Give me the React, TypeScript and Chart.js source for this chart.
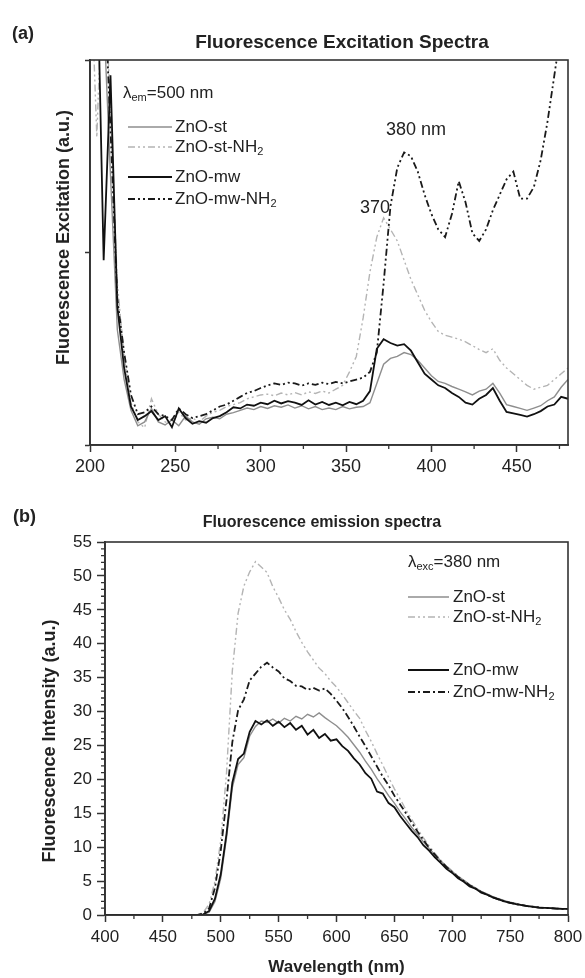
import React, { useEffect, useRef } from 'react';
import { Chart, registerables } from 'chart.js';

Chart.register(...registerables);

const FONT = '"Liberation Sans", Arial, Helvetica, sans-serif';
const TXT = '#222222';
const AXIS = '#333333';

// ---------- (a) Fluorescence excitation spectra (lambda_em = 500 nm) ----------
const excWavelength = [
  200, 204, 208, 212, 216, 220, 224, 228, 232, 236,
  240, 244, 248, 252, 256, 260, 264, 268, 272, 276,
  280, 284, 288, 292, 296, 300, 304, 308, 312, 316,
  320, 324, 328, 332, 336, 340, 344, 348, 352, 356,
  360, 364, 368, 372, 376, 380, 384, 388, 392, 396,
  400, 404, 408, 412, 416, 420, 424, 428, 432, 436,
  440, 444, 448, 452, 456, 460, 464, 468, 472, 476, 480,
];
const excZnOst = [
  130, 118, 112, 70, 30, 17, 9, 5, 6, 9.5,
  6, 5.2, 6.5, 5, 7.5, 6, 5.4, 6.8, 7.2, 6.8,
  8, 8.4, 9, 9.6, 9.2, 10, 9.5, 10.2, 9.8, 10.4,
  9.6, 10.2, 9.4, 10, 9.2, 9.6, 9.2, 10, 9.4, 9.8,
  10, 11, 16, 21, 22.5, 23, 24, 23.5, 22, 20,
  18, 16.5, 16, 15.2, 14.5, 13.8, 13, 14, 14.5, 16,
  13.5, 10.5, 10, 9.5, 9, 9.6, 10.2, 11.5, 12.5, 15, 17,
];
const excZnOstNH2 = [
  130, 80, 130, 86, 42, 23, 11, 6, 4.5, 12,
  8, 6, 5.5, 8.5, 6.5, 7, 6, 7.5, 8.5, 9,
  10, 10.5, 11, 12, 12.5, 13, 13.2, 12.8, 13.5, 13,
  13.6, 13, 13.8, 13.4, 14, 13.5, 14.5, 15.5, 19, 23,
  33, 45, 54, 59, 56, 53, 48, 43, 39, 35,
  32, 29.5, 28.5, 28, 27.5, 26.8, 25.8, 24.8, 24, 25,
  22, 20, 18.5, 17, 15.5, 14.5, 15, 15.5, 17, 18.5, 20,
];
const excZnOmw = [
  130, 130, 48, 96, 36, 20, 10, 6.5, 7.5, 8.8,
  6.5, 7.5, 4.6, 9.5, 7, 5.5, 6.2, 5.8, 7, 7.5,
  8.5, 9.8, 9.5, 10.5, 10.2, 11, 10.6, 11.5, 10.8, 11.4,
  11, 10.4, 11.6, 10.5, 11.2, 10.4, 11, 10.3, 11.2, 10.6,
  11.5, 14, 25, 27.5, 26.5, 25.8, 26.2, 24.5, 21.5, 18.5,
  17, 15.5, 14.8, 13.5, 12.5, 11, 10.5, 12, 13, 14.8,
  11.5, 8.6, 8.2, 7.8, 7.4, 8, 8.8, 10, 10.5, 12.5, 12,
];
const excZnOmwNH2 = [
  130, 130, 125, 82, 38, 24, 13, 8, 8.5, 10,
  8, 7.5, 6.5, 9.5, 8, 7, 7.5, 8, 9, 10,
  10.5, 11.5, 12.5, 13.5, 14, 14.8, 15.5, 16, 15.6, 16.2,
  16, 15.4, 16, 15.6, 16.2, 15.8, 16.4, 16, 16.5, 17,
  17.5, 19, 24, 42, 62, 72, 76, 75, 71, 65,
  60, 56, 54, 60, 68.5, 63, 55, 53, 56, 61,
  65, 69, 71, 64, 64, 67, 74, 84, 96, 108, 120,
];
const excMinorTicks = [225, 275, 325, 375, 425, 475];

// ---------- (b) Fluorescence emission spectra (lambda_exc = 380 nm) ----------
const emWavelength = [
  400, 405, 410, 415, 420, 425, 430, 435, 440, 445,
  450, 455, 460, 465, 470, 475, 480, 485, 490, 495,
  500, 505, 510, 515, 520, 525, 530, 535, 540, 545,
  550, 555, 560, 565, 570, 575, 580, 585, 590, 595,
  600, 605, 610, 615, 620, 625, 630, 635, 640, 645,
  650, 655, 660, 665, 670, 675, 680, 685, 690, 695,
  700, 705, 710, 715, 720, 725, 730, 735, 740, 745,
  750, 755, 760, 765, 770, 775, 780, 785, 790, 795, 800,
];
const emZnOst = [
  0, 0, 0, 0, 0, 0, 0, 0, 0, 0,
  0, 0, 0, 0, 0, 0, 0, 0.1, 0.4, 2,
  5.4, 11.4, 18.8, 22.2, 23.2, 26.4, 27.8, 28.6, 28.4, 28.9,
  28.3, 29, 28.6, 29.3, 28.9, 29.6, 29.2, 29.8, 29.1, 28.5,
  27.9, 27.1, 26.2, 25.1, 24, 22.7, 21.5, 20.1, 18.9, 17.6,
  16.5, 15.2, 14.1, 12.9, 11.9, 10.8, 9.8, 8.9, 8, 7.2,
  6.4, 5.7, 5.1, 4.5, 4, 3.5, 3.1, 2.7, 2.4, 2.1,
  1.9, 1.7, 1.5, 1.35, 1.25, 1.15, 1.08, 1.02, 0.97, 0.93, 0.9,
];
const emZnOstNH2 = [
  0, 0, 0, 0, 0, 0, 0, 0, 0, 0,
  0, 0, 0, 0, 0, 0, 0, 0.4, 1.6, 5,
  11, 21, 36, 44.5, 48.5, 50.6, 52.1, 51.3, 50.5, 48.4,
  46.8, 45, 43.6, 41.8, 40.2, 38.8, 37.6, 36.4, 35.6, 34.5,
  33.6, 32.5, 31.3, 30.1, 29, 27.2, 25.6, 23.8, 22.1, 20.3,
  18.6, 17.1, 15.5, 14.1, 12.7, 11.4, 10.2, 9.1, 8.1, 7.2,
  6.5, 5.8, 5.1, 4.5, 4, 3.5, 3.1, 2.7, 2.4, 2.1,
  1.9, 1.7, 1.5, 1.35, 1.25, 1.15, 1.08, 1.02, 0.97, 0.93, 0.9,
];
const emZnOmw = [
  0, 0, 0, 0, 0, 0, 0, 0, 0, 0,
  0, 0, 0, 0, 0, 0, 0, 0.1, 0.6, 2.4,
  6, 12, 19.5, 23, 23.8, 27, 28.6, 28.1, 28.7, 27.9,
  28.5, 27.7, 28.3, 27.3, 27.9, 26.6, 27.3, 26.1, 26.7, 25.7,
  25.9, 24.9, 24.2, 23.1, 22.2, 20.9, 20.1, 18.2, 17.9, 16.5,
  15.9, 14.6, 13.5, 12.4, 11.5, 10.3, 9.5, 8.5, 7.7, 6.8,
  6.2, 5.4, 4.9, 4.2, 3.9, 3.3, 3, 2.6, 2.3, 2,
  1.8, 1.6, 1.45, 1.3, 1.2, 1.1, 1.05, 1, 0.95, 0.9, 0.9,
];
const emZnOmwNH2 = [
  0, 0, 0, 0, 0, 0, 0, 0, 0, 0,
  0, 0, 0, 0, 0, 0, 0, 0.2, 1, 4,
  9.5, 17, 25.5, 30.2, 31.8, 34.6, 35.6, 36.6, 37.2, 36.5,
  35.9, 34.9, 34.5, 33.8, 33.7, 33.2, 33.5, 33.1, 33.4, 32.6,
  31.6, 30.5, 29.2, 27.8, 26.3, 24.9, 23.4, 21.9, 20.4, 19.1,
  17.6, 16.3, 15, 13.6, 12.3, 11.1, 9.9, 8.9, 7.9, 7.1,
  6.3, 5.6, 5, 4.4, 3.9, 3.4, 3, 2.6, 2.3, 2,
  1.8, 1.6, 1.45, 1.3, 1.2, 1.1, 1.05, 1, 0.95, 0.9, 0.9,
];
const emMinorXTicks = [425, 475, 525, 575, 625, 675, 725, 775];
const emMinorYTicks = [
  1, 2, 3, 4, 6, 7, 8, 9, 11, 12, 13, 14, 16, 17, 18, 19,
  21, 22, 23, 24, 26, 27, 28, 29, 31, 32, 33, 34, 36, 37, 38, 39,
  41, 42, 43, 44, 46, 47, 48, 49, 51, 52, 53, 54,
];

// ---------- styles ----------
const C_ST = '#8e8e8e';
const C_STNH2 = '#b4b4b4';
const C_MW = '#111111';
const C_MWNH2 = '#1a1a1a';
const DASH_DDD = [7, 3, 2, 3, 2, 3];
const DASH_DD = [7, 3, 2, 3];

type Part = { t: string; sub?: boolean };

function drawRich(ctx: CanvasRenderingContext2D, x: number, y: number, parts: Part[], size: number) {
  let cx = x;
  ctx.textAlign = 'left';
  ctx.textBaseline = 'middle';
  for (const p of parts) {
    if (p.sub) {
      ctx.font = `${Math.round(size * 0.62)}px ${FONT}`;
      ctx.fillText(p.t, cx, y + size * 0.32);
    } else {
      ctx.font = `${size}px ${FONT}`;
      ctx.fillText(p.t, cx, y);
    }
    cx += ctx.measureText(p.t).width;
  }
}

type LegendRow = { y: number; parts: Part[]; color: string; width: number; dash: number[] };

function drawLegend(ctx: CanvasRenderingContext2D, x0: number, x1: number, tx: number, rows: LegendRow[], size: number) {
  for (const r of rows) {
    ctx.save();
    ctx.strokeStyle = r.color;
    ctx.lineWidth = r.width;
    ctx.setLineDash(r.dash);
    ctx.beginPath();
    ctx.moveTo(x0, r.y);
    ctx.lineTo(x1, r.y);
    ctx.stroke();
    ctx.restore();
    ctx.fillStyle = TXT;
    drawRich(ctx, tx, r.y, r.parts, size);
  }
}

function frameAndMinor(chart: any, minorX: number[], minorY: number[], xLen: number, yLen: number) {
  const ctx: CanvasRenderingContext2D = chart.ctx;
  const a = chart.chartArea;
  ctx.save();
  ctx.setLineDash([]);
  ctx.strokeStyle = AXIS;
  ctx.lineWidth = 1.6;
  ctx.strokeRect(a.left, a.top, a.right - a.left, a.bottom - a.top);
  ctx.lineWidth = 1.3;
  ctx.beginPath();
  for (const v of minorX) {
    const px = chart.scales.x.getPixelForValue(v);
    ctx.moveTo(px, a.bottom);
    ctx.lineTo(px, a.bottom + xLen);
  }
  for (const v of minorY) {
    const py = chart.scales.y.getPixelForValue(v);
    ctx.moveTo(a.left, py);
    ctx.lineTo(a.left - yLen, py);
  }
  ctx.stroke();
  ctx.restore();
}

function series(label: string, xs: number[], ys: number[], color: string, width: number, dash: number[], order: number) {
  return {
    label,
    data: xs.map((x, i) => ({ x, y: ys[i] })),
    borderColor: color,
    backgroundColor: color,
    borderWidth: width,
    borderDash: dash,
    pointRadius: 0,
    tension: 0,
    fill: false,
    order,
  };
}

function axisGrid(len: number) {
  return {
    display: true,
    drawOnChartArea: false,
    drawTicks: true,
    tickLength: len,
    tickColor: AXIS,
    tickWidth: 1.5,
  };
}

function makeExcitation(canvas: HTMLCanvasElement) {
  const decor = {
    id: 'decorA',
    afterDraw(chart: any) {
      const ctx: CanvasRenderingContext2D = chart.ctx;
      frameAndMinor(chart, excMinorTicks, [], 4, 0);
      ctx.save();
      ctx.fillStyle = TXT;
      ctx.textBaseline = 'middle';
      ctx.textAlign = 'left';
      ctx.font = `bold 18px ${FONT}`;
      ctx.fillText('(a)', 12, 34);
      ctx.textAlign = 'center';
      ctx.font = `bold 19px ${FONT}`;
      ctx.fillText('Fluorescence Excitation Spectra', 342, 43);
      // peak annotations anchored to data coordinates
      const xs = chart.scales.x;
      const ys = chart.scales.y;
      ctx.font = `18px ${FONT}`;
      ctx.textAlign = 'center';
      ctx.fillText('380 nm', xs.getPixelForValue(391), ys.getPixelForValue(81.8));
      ctx.textAlign = 'right';
      ctx.fillText('370', xs.getPixelForValue(375.7), ys.getPixelForValue(61.6));
      // legend
      drawRich(ctx, 123, 93, [{ t: 'λ' }, { t: 'em', sub: true }, { t: '=500 nm' }], 17);
      drawLegend(ctx, 128, 172, 175, [
        { y: 127, parts: [{ t: 'ZnO-st' }], color: C_ST, width: 1.5, dash: [] },
        { y: 147, parts: [{ t: 'ZnO-st-NH' }, { t: '2', sub: true }], color: C_STNH2, width: 1.5, dash: DASH_DDD },
        { y: 177, parts: [{ t: 'ZnO-mw' }], color: C_MW, width: 2, dash: [] },
        { y: 199, parts: [{ t: 'ZnO-mw-NH' }, { t: '2', sub: true }], color: C_MWNH2, width: 2, dash: DASH_DDD },
      ], 17);
      ctx.restore();
    },
  };

  return new Chart(canvas, {
    type: 'line',
    data: {
      datasets: [
        series('ZnO-mw', excWavelength, excZnOmw, C_MW, 1.8, [], 0),
        series('ZnO-mw-NH2', excWavelength, excZnOmwNH2, C_MWNH2, 1.8, DASH_DDD, 1),
        series('ZnO-st', excWavelength, excZnOst, C_ST, 1.4, [], 2),
        series('ZnO-st-NH2', excWavelength, excZnOstNH2, C_STNH2, 1.4, DASH_DDD, 3),
      ] as any,
    },
    options: {
      animation: false,
      responsive: false,
      maintainAspectRatio: false,
      layout: { padding: { left: 0, top: 60, right: 17, bottom: 0 } },
      plugins: {
        legend: { display: false },
        tooltip: { enabled: false },
        title: { display: false },
      },
      scales: {
        x: {
          type: 'linear',
          min: 200,
          max: 480,
          ticks: {
            stepSize: 50,
            includeBounds: false,
            autoSkip: false,
            maxRotation: 0,
            padding: 4,
            color: TXT,
            font: { family: FONT, size: 18 },
          },
          grid: axisGrid(7),
          border: { display: true, color: AXIS, width: 1.8 },
          afterFit: (s: any) => {
            s.height = 40;
            s.paddingLeft = 0;
            s.paddingRight = 0;
          },
        },
        y: {
          type: 'linear',
          min: 0,
          max: 100,
          ticks: { stepSize: 50, callback: () => '', padding: 0 },
          grid: axisGrid(5),
          border: { display: true, color: AXIS, width: 1.8 },
          title: {
            display: true,
            text: '      Fluorescence Excitation (a.u.)',
            color: TXT,
            font: { family: FONT, size: 18, weight: 'bold' },
            padding: { top: 53, bottom: 0 },
          },
          afterFit: (s: any) => {
            s.width = 90;
            s.paddingTop = 0;
            s.paddingBottom = 0;
          },
        },
      },
    } as any,
    plugins: [decor],
  });
}

function makeEmission(canvas: HTMLCanvasElement) {
  const decor = {
    id: 'decorB',
    afterDraw(chart: any) {
      const ctx: CanvasRenderingContext2D = chart.ctx;
      frameAndMinor(chart, emMinorXTicks, emMinorYTicks, 4, 4);
      ctx.save();
      ctx.fillStyle = TXT;
      ctx.textBaseline = 'middle';
      ctx.textAlign = 'left';
      ctx.font = `bold 18px ${FONT}`;
      ctx.fillText('(b)', 13, 32);
      ctx.textAlign = 'center';
      ctx.font = `bold 16px ${FONT}`;
      ctx.fillText('Fluorescence emission spectra', 322, 38);
      drawRich(ctx, 408, 77, [{ t: 'λ' }, { t: 'exc', sub: true }, { t: '=380 nm' }], 17);
      drawLegend(ctx, 408, 449, 453, [
        { y: 112, parts: [{ t: 'ZnO-st' }], color: C_ST, width: 1.5, dash: [] },
        { y: 132, parts: [{ t: 'ZnO-st-NH' }, { t: '2', sub: true }], color: C_STNH2, width: 1.5, dash: DASH_DDD },
        { y: 185, parts: [{ t: 'ZnO-mw' }], color: C_MW, width: 2, dash: [] },
        { y: 207, parts: [{ t: 'ZnO-mw-NH' }, { t: '2', sub: true }], color: C_MWNH2, width: 2, dash: DASH_DD },
      ], 17);
      ctx.restore();
    },
  };

  return new Chart(canvas, {
    type: 'line',
    data: {
      datasets: [
        series('ZnO-mw', emWavelength, emZnOmw, C_MW, 1.8, [], 0),
        series('ZnO-mw-NH2', emWavelength, emZnOmwNH2, C_MWNH2, 1.8, DASH_DD, 1),
        series('ZnO-st', emWavelength, emZnOst, C_ST, 1.4, [], 2),
        series('ZnO-st-NH2', emWavelength, emZnOstNH2, C_STNH2, 1.4, DASH_DDD, 3),
      ] as any,
    },
    options: {
      animation: false,
      responsive: false,
      maintainAspectRatio: false,
      layout: { padding: { left: 0, top: 57, right: 17, bottom: 0 } },
      plugins: {
        legend: { display: false },
        tooltip: { enabled: false },
        title: { display: false },
      },
      scales: {
        x: {
          type: 'linear',
          min: 400,
          max: 800,
          ticks: {
            stepSize: 50,
            autoSkip: false,
            maxRotation: 0,
            padding: 5,
            color: TXT,
            font: { family: FONT, size: 17 },
          },
          grid: axisGrid(7),
          border: { display: true, color: AXIS, width: 1.8 },
          title: {
            display: true,
            text: 'Wavelength (nm)',
            color: TXT,
            font: { family: FONT, size: 17, weight: 'bold' },
            padding: { top: 0, bottom: 0 },
          },
          afterFit: (s: any) => {
            s.height = 63;
            s.paddingLeft = 0;
            s.paddingRight = 0;
          },
        },
        y: {
          type: 'linear',
          min: 0,
          max: 55,
          ticks: {
            stepSize: 5,
            autoSkip: false,
            padding: 5,
            color: TXT,
            font: { family: FONT, size: 17 },
          },
          grid: axisGrid(8),
          border: { display: true, color: AXIS, width: 1.8 },
          title: {
            display: true,
            text: 'Fluorescence Intensity (a.u.)     ',
            color: TXT,
            font: { family: FONT, size: 18, weight: 'bold' },
            padding: { top: 39, bottom: 0 },
          },
          afterFit: (s: any) => {
            s.width = 105;
            s.paddingTop = 0;
            s.paddingBottom = 0;
          },
        },
      },
    } as any,
    plugins: [decor],
  });
}

export default function App() {
  const refA = useRef<HTMLCanvasElement | null>(null);
  const refB = useRef<HTMLCanvasElement | null>(null);

  useEffect(() => {
    if (!refA.current || !refB.current) return;
    const a = makeExcitation(refA.current);
    const b = makeEmission(refB.current);
    return () => {
      a.destroy();
      b.destroy();
    };
  }, []);

  return (
    <div style={{ position: 'absolute', left: 0, top: 0, width: 585, height: 978, background: '#ffffff', overflow: 'hidden' }}>
      <canvas ref={refA} width={585} height={485} style={{ position: 'absolute', left: 0, top: 0, width: 585, height: 485 }} />
      <canvas ref={refB} width={585} height={493} style={{ position: 'absolute', left: 0, top: 485, width: 585, height: 493 }} />
    </div>
  );
}
